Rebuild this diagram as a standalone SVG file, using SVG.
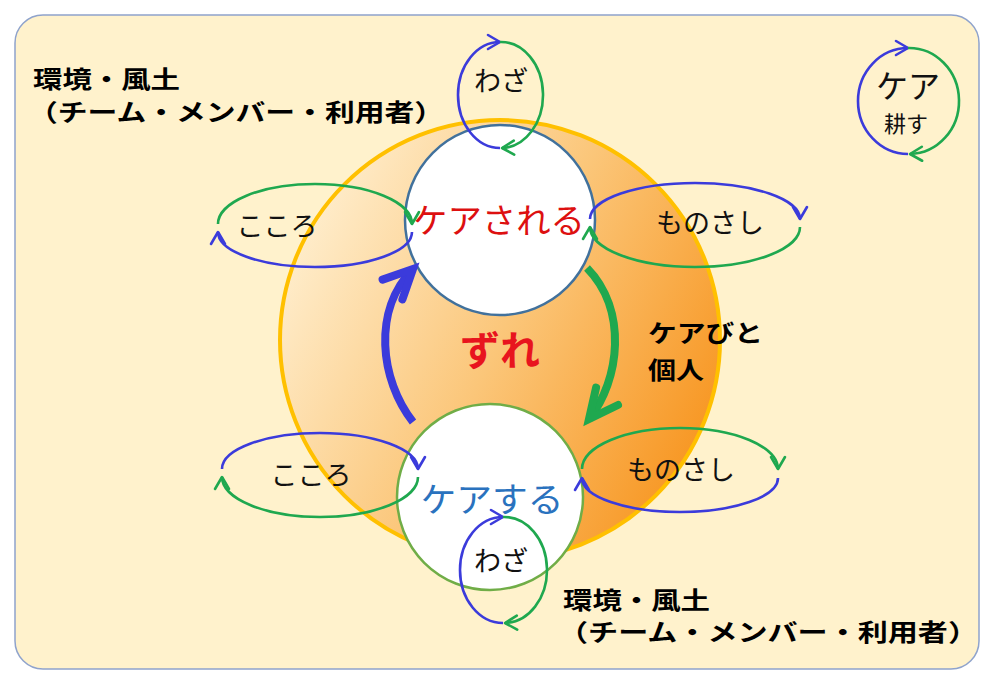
<svg xmlns="http://www.w3.org/2000/svg" width="996" height="684" viewBox="0 0 996 684">
<defs>
  <linearGradient id="orangeGrad" x1="0" y1="0.25" x2="1" y2="0.75">
    <stop offset="0" stop-color="#FFF0D2"/>
    <stop offset="0.5" stop-color="#FBC679"/>
    <stop offset="1" stop-color="#F7931C"/>
  </linearGradient>
  <marker id="mBlue" markerUnits="userSpaceOnUse" markerWidth="18" markerHeight="18" refX="13" refY="8" orient="auto" overflow="visible">
    <path d="M1,1 L13,8 L1,15" fill="none" stroke="#3B3BDB" stroke-width="2.6" stroke-linecap="round" stroke-linejoin="round"/>
  </marker>
  <marker id="mGreen" markerUnits="userSpaceOnUse" markerWidth="18" markerHeight="18" refX="13" refY="8" orient="auto" overflow="visible">
    <path d="M1,1 L13,8 L1,15" fill="none" stroke="#1FA84F" stroke-width="2.6" stroke-linecap="round" stroke-linejoin="round"/>
  </marker>
  <marker id="mBlueBig" markerUnits="userSpaceOnUse" markerWidth="44" markerHeight="44" refX="32" refY="16" orient="auto" overflow="visible">
    <path d="M3,2 L32,16 L3,30" fill="none" stroke="#3B3BDB" stroke-width="8" stroke-linecap="round" stroke-linejoin="miter"/>
  </marker>
  <marker id="mGreenBig" markerUnits="userSpaceOnUse" markerWidth="44" markerHeight="44" refX="32" refY="16" orient="auto" overflow="visible">
    <path d="M3,2 L32,16 L3,30" fill="none" stroke="#1FA84F" stroke-width="8" stroke-linecap="round" stroke-linejoin="miter"/>
  </marker>
</defs>
<style>
  text { font-family: "Noto Sans CJK JP", "Noto Sans CJK SC", sans-serif; }
  .lbl { font-size: 24px; font-weight: bold; fill: #000; }
  .loopTxt { font-size: 27px; fill: #111; text-anchor: middle; }
  .blue { fill: none; stroke: #3B3BDB; stroke-width: 2.6; marker-end: url(#mBlue); }
  .green { fill: none; stroke: #1FA84F; stroke-width: 2.6; marker-end: url(#mGreen); }
  .thickBlue { fill: none; stroke: #3B3BDB; stroke-width: 8; marker-end: url(#mBlueBig); }
  .thickGreen { fill: none; stroke: #1FA84F; stroke-width: 8; marker-end: url(#mGreenBig); }
</style>

<rect id="background" x="15" y="15" width="964" height="654" rx="28" ry="28" fill="#FFF2CC" stroke="#8FA3CC" stroke-width="1.5"/>

<g id="env-top">
  <text class="lbl" x="33" y="88" textLength="147" lengthAdjust="spacingAndGlyphs">環境・風土</text>
  <text class="lbl" x="28" y="121" textLength="416" lengthAdjust="spacingAndGlyphs">（チーム・メンバー・利用者）</text>
</g>
<g id="env-bottom">
  <text class="lbl" x="563" y="609" textLength="147" lengthAdjust="spacingAndGlyphs">環境・風土</text>
  <text class="lbl" x="558" y="641" textLength="420" lengthAdjust="spacingAndGlyphs">（チーム・メンバー・利用者）</text>
</g>

<g id="zure">
  <circle cx="500" cy="340" r="220" fill="url(#orangeGrad)" stroke="#FFC000" stroke-width="4"/>
  <text x="500" y="365" text-anchor="middle" font-size="40" font-weight="bold" fill="#E8141E">ずれ</text>
</g>

<g id="care-received">
  <circle cx="500" cy="220" r="95" fill="#FFFFFF" stroke="#41719C" stroke-width="2.5"/>
  <text x="499" y="233" text-anchor="middle" font-size="34" fill="#DD1010" textLength="172" lengthAdjust="spacingAndGlyphs">ケアされる</text>
</g>

<g id="care-giving">
  <circle cx="490" cy="497" r="93" fill="#FFFFFF" stroke="#70AD47" stroke-width="2.5"/>
  <text x="492" y="512" text-anchor="middle" font-size="34" fill="#2A72BE" textLength="143" lengthAdjust="spacingAndGlyphs">ケアする</text>
</g>

<g id="carebito">
  <text class="lbl" x="648" y="342" textLength="115" lengthAdjust="spacingAndGlyphs">ケアびと</text>
  <text class="lbl" x="648" y="379" textLength="56" lengthAdjust="spacingAndGlyphs">個人</text>
</g>

<g id="connectors">
  <path class="thickBlue" d="M413,422 C380,380 372,310 413,269"/>
  <path class="thickGreen" d="M587,268 C628,310 620,380 589,419"/>
</g>

<g id="waza-top">
  <path class="blue" d="M500,148 A42,53 0 0 1 500,42"/>
  <path class="green" d="M500,42 A42,53 0 0 1 502,148"/>
  <text class="loopTxt" x="501" y="91">わざ</text>
</g>

<g id="kokoro-top">
  <path class="green" d="M218,224 A97,40 0 0 1 412,224"/>
  <path class="blue" d="M412,232 A97,35 0 0 1 218,232"/>
  <text class="loopTxt" x="277" y="236">こころ</text>
</g>

<g id="monosashi-top">
  <path class="blue" d="M590,219 A105,36 0 0 1 800,219"/>
  <path class="green" d="M800,227 A105,40 0 0 1 590,227"/>
  <text class="loopTxt" x="710" y="233">ものさし</text>
</g>

<g id="kokoro-bottom">
  <path class="blue" d="M222,469 A98,36 0 0 1 418,469"/>
  <path class="green" d="M418,477 A98,40 0 0 1 222,477"/>
  <text class="loopTxt" x="311" y="485">こころ</text>
</g>

<g id="monosashi-bottom">
  <path class="green" d="M582,469 A98,41 0 0 1 778,469"/>
  <path class="blue" d="M778,478 A98,34 0 0 1 582,478"/>
  <text class="loopTxt" x="681" y="480">ものさし</text>
</g>

<g id="waza-bottom">
  <path class="blue" d="M503,623 A43,53 0 0 1 503,517"/>
  <path class="green" d="M503,517 A43,53 0 0 1 505,623"/>
  <text class="loopTxt" x="501" y="571">わざ</text>
</g>

<g id="care-cultivate">
  <path class="blue" d="M908,154 A50,53 0 0 1 908,48"/>
  <path class="green" d="M908,48 A50,53 0 0 1 910,154"/>
  <text x="908" y="98" text-anchor="middle" font-size="32" fill="#111">ケア</text>
  <text x="906" y="132" text-anchor="middle" font-size="22" fill="#111">耕す</text>
</g>
</svg>
